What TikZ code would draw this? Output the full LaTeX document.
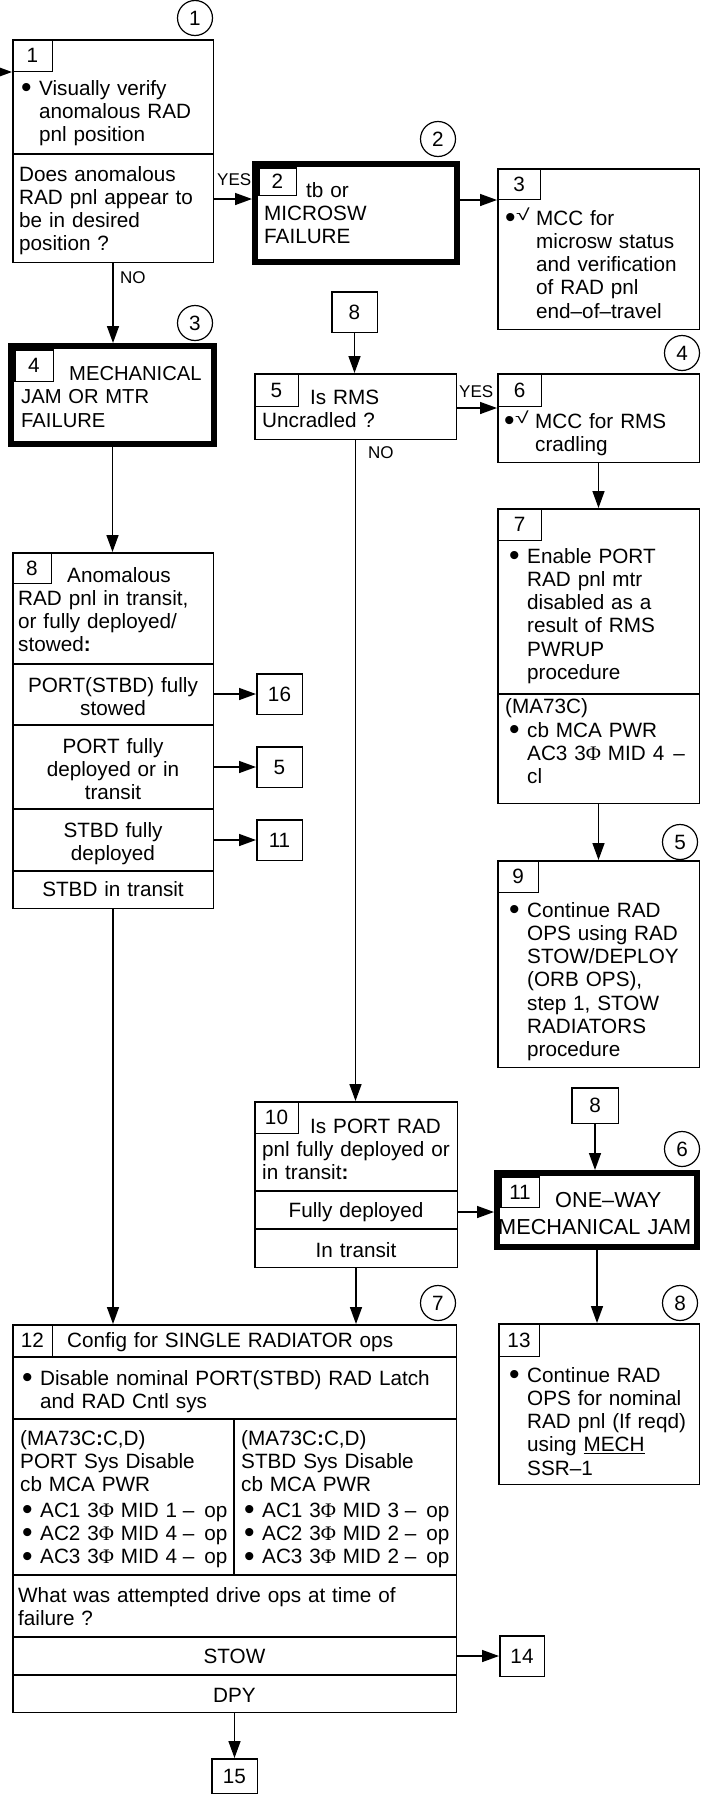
\documentclass[tikz,border=0pt]{standalone}
\usepackage{fontspec}
\setmainfont{Liberation Sans}
\newfontfamily\phifont{Liberation Serif}
\usetikzlibrary{arrows.meta}
\newcommand{\Ph}{{\phifont Φ}}
\newcommand{\bulg}{\smash{\raisebox{-2.5pt}{\scalebox{1.45}{\textbullet}}}}
\newcommand{\bul}{\leavevmode\llap{\bulg\hspace{7.5pt}}}
\newcommand{\chk}{\leavevmode\llap{\makebox[31pt][l]{\bulg\hspace{0.5pt}\smash{\raisebox{4.5pt}{\fontsize{16}{16}\selectfont\scalebox{1.55}[1]{√}}}}}}
\begin{document}
\begin{tikzpicture}[x=1pt,y=-1pt,
  every node/.style={inner sep=0pt, font=\fontsize{20.7}{23.3}\selectfont},
  ln/.style={line width=1.5pt},
  bx/.style={draw, line width=1.5pt, rectangle, anchor=north west},
  tbx/.style={draw, line width=6pt, rectangle, anchor=north west},
  cell/.style={draw, line width=1.5pt, rectangle, anchor=north west},
  gbox/.style={draw, line width=1.5pt, rectangle, minimum width=45.5pt, minimum height=40.5pt},
  circ/.style={draw, circle, line width=1.2pt, minimum size=35pt},
  txt/.style={anchor=base west, text width=420pt, align=left},
  ctxt/.style={anchor=base, text width=190pt, align=center},
  lbl/.style={anchor=west, font=\fontsize{17}{17}\selectfont},
  arr/.style={line width=1.5pt, -{Triangle[length=17pt,width=12pt]}},
]
\useasboundingbox (0,0) rectangle (701,1796);

% ---------- boxes ----------
\node[bx, minimum width=200.5pt, minimum height=222.5pt] (b1) at (12,39) {};
\node[cell, minimum width=39.5pt, minimum height=31.5pt] (n1) at (b1.north west) {1};
\draw[ln] (b1.west |- 0,154) -- (b1.east |- 0,154);

\node[tbx, minimum width=202pt, minimum height=98pt] (b2) at (252,161) {};
\node[cell, minimum width=37.5pt, minimum height=27.5pt] (n2) at (258,167) {2};

\node[bx, minimum width=201.5pt, minimum height=160.5pt] (b3) at (497,168) {};
\node[cell, minimum width=42.5pt, minimum height=30.5pt] (n3) at (b3.north west) {3};

\node[tbx, minimum width=203pt, minimum height=98pt] (b4) at (8,343) {};
\node[cell, minimum width=38.5pt, minimum height=31.5pt] (n4) at (14,349) {4};

\node[bx, minimum width=201.5pt, minimum height=65.5pt] (b5) at (254,373) {};
\node[cell, minimum width=43.5pt, minimum height=32.5pt] (n5) at (b5.north west) {5};

\node[bx, minimum width=201.5pt, minimum height=88.5pt] (b6) at (497,373) {};
\node[cell, minimum width=43.5pt, minimum height=32.5pt] (n6) at (b6.north west) {6};

\node[bx, minimum width=201.5pt, minimum height=294.5pt] (b7) at (497,508) {};
\node[cell, minimum width=43.5pt, minimum height=31.5pt] (n7) at (b7.north west) {7};
\draw[ln] (b7.west |- 0,694) -- (b7.east |- 0,694);

\node[bx, minimum width=200.5pt, minimum height=355.5pt] (b8) at (12,552) {};
\node[cell, minimum width=38.5pt, minimum height=30.5pt] (n8) at (b8.north west) {8};
\draw[ln] (b8.west |- 0,664) -- (b8.east |- 0,664);
\draw[ln] (b8.west |- 0,725) -- (b8.east |- 0,725);
\draw[ln] (b8.west |- 0,809) -- (b8.east |- 0,809);
\draw[ln] (b8.west |- 0,871) -- (b8.east |- 0,871);

\node[bx, minimum width=201.5pt, minimum height=206.5pt] (b9) at (497,860) {};
\node[cell, minimum width=40.5pt, minimum height=31.5pt] (n9) at (b9.north west) {9};

\node[bx, minimum width=202.5pt, minimum height=165.5pt] (b10) at (254,1101) {};
\node[cell, minimum width=43.5pt, minimum height=31.5pt] (n10) at (b10.north west) {10};
\draw[ln] (b10.west |- 0,1191) -- (b10.east |- 0,1191);
\draw[ln] (b10.west |- 0,1229) -- (b10.east |- 0,1229);

\node[tbx, minimum width=200pt, minimum height=74pt] (b11) at (494,1170) {};
\node[cell, minimum width=38.5pt, minimum height=30.5pt] (n11) at (500,1176) {11};

\node[bx, minimum width=443.5pt, minimum height=387.5pt] (b12) at (12,1324) {};
\node[cell, minimum width=39.5pt, minimum height=31.5pt] (n12) at (b12.north west) {12};
\draw[ln] (b12.west |- 0,1357) -- (b12.east |- 0,1357);
\draw[ln] (b12.west |- 0,1419) -- (b12.east |- 0,1419);
\draw[ln] (234,1419) -- (234,1575);
\draw[ln] (b12.west |- 0,1575) -- (b12.east |- 0,1575);
\draw[ln] (b12.west |- 0,1637) -- (b12.east |- 0,1637);
\draw[ln] (b12.west |- 0,1675) -- (b12.east |- 0,1675);

\node[bx, minimum width=200.5pt, minimum height=160.5pt] (b13) at (498,1323) {};
\node[cell, minimum width=40.5pt, minimum height=32.5pt] (n13) at (b13.north west) {13};

% ---------- goto boxes ----------
\node[gbox] (g8a) at (354.5,312) {8};
\node[gbox] (g16) at (279.5,694) {16};
\node[gbox] (g5) at (279.5,767) {5};
\node[gbox] (g11) at (279.5,840) {11};
\node[gbox, minimum width=46.5pt, minimum height=35.5pt] (g8b) at (595,1105.5) {8};
\node[gbox, minimum width=44.5pt] (g14) at (522,1656) {14};
\node[gbox, minimum height=34.5pt] (g15) at (234.5,1776) {15};

% ---------- circles ----------
\node[circ] (c1) at (195,18) {1};
\node[circ] (c2) at (438,139) {2};
\node[circ] (c3) at (195,323) {3};
\node[circ] (c4) at (682,353) {4};
\node[circ] (c5) at (680,842) {5};
\node[circ] (c6) at (682,1149) {6};
\node[circ] (c7) at (438,1303) {7};
\node[circ] (c8) at (680,1303) {8};

% ---------- texts ----------
\node[txt] (t1a) at (39,95) {\bul Visually verify\\anomalous RAD\\pnl position};
\node[txt] (t1b) at (19,181) {Does anomalous\\RAD pnl appear to\\be in desired\\position ?};
\node[txt] (t2) at (264,197) {\hspace*{42pt}tb or\\MICROSW\\FAILURE};
\node[txt] (t3) at (536,225) {\chk MCC for\\microsw status\\and verification\\of RAD pnl\\end–of–travel};
\node[txt, font=\fontsize{20.2}{23.5}\selectfont] (t4) at (21,380) {\hspace*{48pt}MECHANICAL\\JAM OR MTR\\FAILURE};
\node[txt] (t5) at (262,404) {\hspace*{48pt}Is RMS\\Uncradled ?};
\node[txt] (t6) at (535,428) {\chk MCC for RMS\\cradling};
\node[txt] (t7a) at (527,563) {\bul Enable PORT\\RAD pnl mtr\\disabled as a\\result of RMS\\PWRUP\\procedure};
\node[txt] (t7b) at (505,713) {(MA73C)};
\node[txt] (t7c) at (527,737) {\bul cb MCA PWR\\AC3 3\Ph{} MID 4\hspace{9pt}–\\cl};
\node[txt] (t8) at (18,582) {\hspace*{49pt}Anomalous\\RAD pnl in transit,\\or fully deployed/\\stowed\textbf{:}};
\node[ctxt] (r8a) at (113,692) {PORT(STBD) fully\\stowed};
\node[ctxt] (r8b) at (113,753) {PORT fully\\deployed or in\\transit};
\node[ctxt] (r8c) at (113,837) {STBD fully\\deployed};
\node[ctxt] (r8d) at (113,896) {STBD in transit};
\node[txt] (t9) at (527,917) {\bul Continue RAD\\OPS using RAD\\STOW/DEPLOY\\(ORB OPS),\\step 1, STOW\\RADIATORS\\procedure};
\node[txt] (t10) at (262,1133) {\hspace*{48pt}Is PORT RAD\\pnl fully deployed or\\in transit\textbf{:}};
\node[ctxt] (r10a) at (356,1217) {Fully deployed};
\node[ctxt] (r10b) at (356,1257) {In transit};
\node[txt, font=\fontsize{21.7}{27}\selectfont] (t11) at (498,1207) {\hspace*{57pt}ONE–WAY\\MECHANICAL JAM};
\node[txt] (t12a) at (67,1347) {Config for SINGLE RADIATOR ops};
\node[txt] (t12b) at (40,1385) {\bul Disable nominal PORT(STBD) RAD Latch\\and RAD Cntl sys};
\node[txt] (t12c) at (20,1445) {(MA73C\textbf{:}C,D)\\PORT Sys Disable\\cb MCA PWR};
\node[txt] (t12d) at (40,1517) {\bul AC1 3\Ph{} MID 1\hspace{5.5pt}–\hspace{10pt}op\\\bul AC2 3\Ph{} MID 4\hspace{5.5pt}–\hspace{10pt}op\\\bul AC3 3\Ph{} MID 4\hspace{5.5pt}–\hspace{10pt}op};
\node[txt] (t12e) at (241,1445) {(MA73C\textbf{:}C,D)\\STBD Sys Disable\\cb MCA PWR};
\node[txt] (t12f) at (262,1517) {\bul AC1 3\Ph{} MID 3\hspace{5.5pt}–\hspace{10pt}op\\\bul AC2 3\Ph{} MID 2\hspace{5.5pt}–\hspace{10pt}op\\\bul AC3 3\Ph{} MID 2\hspace{5.5pt}–\hspace{10pt}op};
\node[txt] (t12g) at (18,1602) {What was attempted drive ops at time of\\failure ?};
\node[ctxt] (r12a) at (234.5,1663) {STOW};
\node[ctxt] (r12b) at (234.5,1702) {DPY};
\node[txt] (t13) at (527,1382) {\bul Continue RAD\\OPS for nominal\\RAD pnl (If reqd)\\using \underline{MECH}\\SSR–1};

% ---------- labels ----------
\node[lbl] (yes1) at (217,180) {YES};
\node[lbl] (no1) at (120,278) {NO};
\node[lbl] (yes2) at (459,392) {YES};
\node[lbl] (no2) at (368,453) {NO};

% ---------- connectors ----------
\coordinate (in0) at (-8,72);
\draw[arr] (in0) -- (b1.west |- in0);
\draw[arr] (b1.east |- 0,199) -- (b2.west |- 0,199);
\draw[arr] (b2.east |- 0,200) -- (b3.west |- 0,200);
\draw[arr] (b1.south) -- (b1.south |- b4.north);
\draw[arr] (b4.south) -- (b4.south |- b8.north);
\draw[arr] (b8.south) -- (b8.south |- b12.north);
\draw[arr] (g8a.south) -- (g8a.south |- b5.north);
\draw[arr] (b5.east |- 0,408) -- (b6.west |- 0,408);
\draw[arr] (b5.south) -- (b5.south |- b10.north);
\draw[arr] (b6.south) -- (b6.south |- b7.north);
\draw[arr] (b7.south) -- (b7.south |- b9.north);
\draw[arr] (b8.east |- g16) -- (g16);
\draw[arr] (b8.east |- g5) -- (g5);
\draw[arr] (b8.east |- g11) -- (g11);
\draw[arr] (b10.east |- 0,1212) -- (b11.west |- 0,1212);
\draw[arr] (g8b.south) -- (g8b.south |- b11.north);
\draw[arr] (b11.south) -- (b11.south |- b13.north);
\draw[arr] (b10.south) -- (b10.south |- b12.north);
\draw[arr] (b12.east |- g14) -- (g14);
\draw[arr] (b12.south) -- (g15.north);
\end{tikzpicture}
\end{document}
